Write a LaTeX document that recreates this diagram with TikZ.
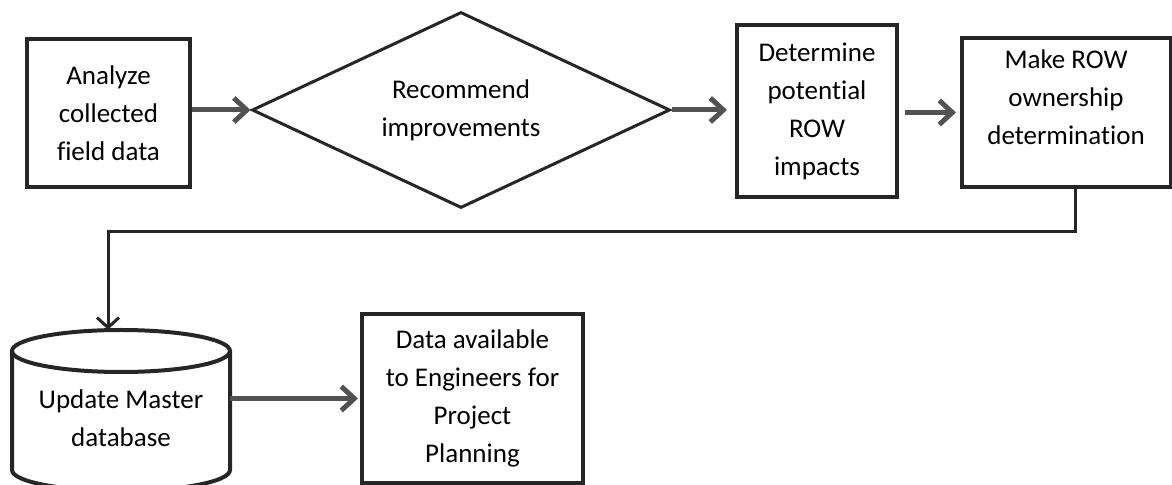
\documentclass[tikz,border=0pt]{standalone}
\usepackage{fontspec}
\setmainfont{Carlito}[Ligatures=NoCommon]
\usetikzlibrary{shapes, arrows.meta, positioning, calc}

\begin{document}
\begin{tikzpicture}[x=0.5pt, y=0.5pt,
    txt/.style={align=center, font=\fontsize{13.5}{19}\selectfont, text=black},
    stepbox/.style={txt, draw=black!85, line width=2pt, inner sep=0pt},
    flow/.style={draw=black!68, line width=2.5pt, -{Straight Barb[length=6.5pt, width=12pt]}},
    link/.style={draw=black!85, line width=1.5pt, -{Straight Barb[length=5pt, width=11pt]}}]

    \clip (0,0) rectangle (1172,-485);

    % Top row
    \node[stepbox, minimum width=81.5pt, minimum height=74pt] (an) at (108.5,-113) {Analyze\\collected\\field data};
    \node[txt, diamond, draw=black!85, line width=1.5pt, aspect=2.13, inner sep=0pt,
        minimum width=209pt, minimum height=98pt] (rec) at (461,-110) {Recommend\\improvements};
    \node[stepbox, minimum width=80pt, minimum height=86pt] (det) at (817,-111) {Determine\\potential\\ROW\\impacts};
    \node[stepbox, minimum width=104.5pt, minimum height=74.5pt] (mk) at (1066.5,-112.5) {};
    \node[txt] (mkt) at (1066,-97) {Make ROW\\ownership\\determination};

    % Database
    \draw[draw=black!85, line width=2pt] (12,-351) -- (12,-470)
        arc[start angle=180, end angle=360, x radius=54.5pt, y radius=10.5pt] -- (230,-351);
    \draw[draw=black!85, line width=2pt] (121,-351) ellipse[x radius=54.5pt, y radius=10.5pt];
    \node[txt, minimum width=109pt, minimum height=88pt] (db) at (121,-418) {Update Master\\database};

    \node[stepbox, minimum width=110.5pt, minimum height=84.5pt] (avail) at (472.5,-398.5) {Data available\\to Engineers for\\Project\\Planning};

    % Arrows
    \draw[flow] (an.east |- rec.west) -- (rec.west);
    \draw[flow, shorten >=4pt] (rec.east) -- (det.west |- rec.east);
    \draw[flow, shorten <=3pt, shorten >=2pt] (det.east |- mk.west) -- (mk.west);
    \coordinate (turn) at (108,-232);
    \draw[link] ([xshift=4.25pt]mk.south) |- (turn) -- (turn |- db.north);
    \draw[flow, shorten >=1pt] (db.east |- avail.west) -- (avail.west);
\end{tikzpicture}
\end{document}
